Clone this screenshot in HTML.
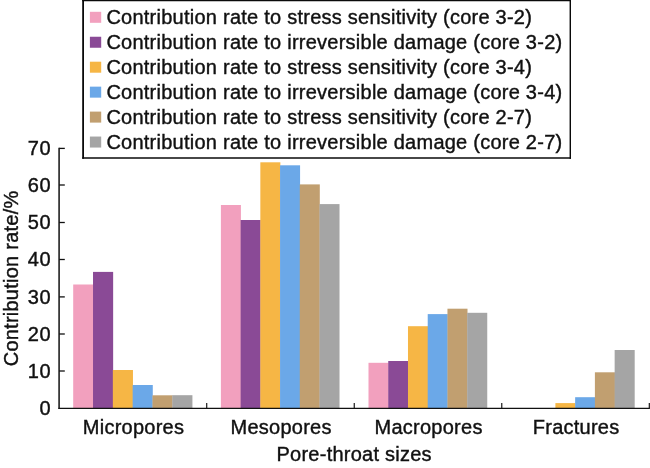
<!DOCTYPE html>
<html lang="en"><head><meta charset="utf-8"><title>Contribution rate chart</title>
<style>html,body{margin:0;padding:0;background:#fff}body{width:650px;height:468px;overflow:hidden}svg{display:block}text{font-family:"Liberation Sans",Arial,sans-serif;font-size:20px;letter-spacing:0.245px;fill:#111;stroke:#111;stroke-width:0.4px}</style></head><body>
<svg width="650" height="468" viewBox="0 0 650 468">
<rect width="650" height="468" fill="#fff"/>
<rect x="73.20" y="284.50" width="20.12" height="123.50" fill="#F2A0BE"/>
<rect x="93.02" y="271.90" width="20.12" height="136.10" fill="#8A4A96"/>
<rect x="112.84" y="370.00" width="20.12" height="38.00" fill="#F6B645"/>
<rect x="132.66" y="385.00" width="20.12" height="23.00" fill="#6BA8E8"/>
<rect x="152.48" y="395.30" width="20.12" height="12.70" fill="#C19F70"/>
<rect x="172.30" y="395.20" width="20.12" height="12.80" fill="#A5A5A5"/>
<rect x="220.90" y="205.00" width="20.02" height="203.00" fill="#F2A0BE"/>
<rect x="240.62" y="220.00" width="20.02" height="188.00" fill="#8A4A96"/>
<rect x="260.34" y="162.30" width="20.02" height="245.70" fill="#F6B645"/>
<rect x="280.06" y="165.30" width="20.02" height="242.70" fill="#6BA8E8"/>
<rect x="299.78" y="184.40" width="20.02" height="223.60" fill="#C19F70"/>
<rect x="319.50" y="204.10" width="20.02" height="203.90" fill="#A5A5A5"/>
<rect x="368.50" y="362.80" width="20.04" height="45.20" fill="#F2A0BE"/>
<rect x="388.24" y="361.00" width="20.04" height="47.00" fill="#8A4A96"/>
<rect x="407.98" y="326.20" width="20.04" height="81.80" fill="#F6B645"/>
<rect x="427.72" y="314.10" width="20.04" height="93.90" fill="#6BA8E8"/>
<rect x="447.46" y="308.70" width="20.04" height="99.30" fill="#C19F70"/>
<rect x="467.20" y="312.80" width="20.04" height="95.20" fill="#A5A5A5"/>
<rect x="555.40" y="403.10" width="20.05" height="4.90" fill="#F6B645"/>
<rect x="575.15" y="397.20" width="20.05" height="10.80" fill="#6BA8E8"/>
<rect x="594.90" y="372.30" width="20.05" height="35.70" fill="#C19F70"/>
<rect x="614.65" y="350.00" width="20.05" height="58.00" fill="#A5A5A5"/>
<g stroke="#222" stroke-width="1.4" fill="none">
<path d="M59.1 147.70000000000002V408.90000000000003" stroke-width="1.75" stroke="#333"/>
<path d="M58.45 408.3H649.9" stroke-width="1.25" stroke="#111"/>
<path d="M59.2 371.00h5.6" stroke-width="1.3" stroke="#111"/>
<path d="M59.2 334.00h5.6" stroke-width="1.3" stroke="#111"/>
<path d="M59.2 296.90h5.6" stroke-width="1.3" stroke="#111"/>
<path d="M59.2 259.50h5.6" stroke-width="1.3" stroke="#111"/>
<path d="M59.2 222.50h5.6" stroke-width="1.3" stroke="#111"/>
<path d="M59.2 185.00h5.6" stroke-width="1.3" stroke="#111"/>
<path d="M59.2 148.40h5.6" stroke-width="1.3" stroke="#111"/>
<path d="M206.72 408.3v-5.3" stroke-width="1.15" stroke="#111"/>
<path d="M354.25 408.3v-5.3" stroke-width="1.15" stroke="#111"/>
<path d="M501.77 408.3v-5.3" stroke-width="1.15" stroke="#111"/>
<path d="M649.30 408.3v-5.3" stroke-width="1.15" stroke="#111"/>
</g>
<text x="51.1" y="415.05" text-anchor="end" style="letter-spacing:0.5px">0</text>
<text x="51.1" y="377.75" text-anchor="end" style="letter-spacing:0.5px">10</text>
<text x="51.1" y="340.75" text-anchor="end" style="letter-spacing:0.5px">20</text>
<text x="51.1" y="303.65" text-anchor="end" style="letter-spacing:0.5px">30</text>
<text x="51.1" y="266.25" text-anchor="end" style="letter-spacing:0.5px">40</text>
<text x="51.1" y="229.25" text-anchor="end" style="letter-spacing:0.5px">50</text>
<text x="51.1" y="191.75" text-anchor="end" style="letter-spacing:0.5px">60</text>
<text x="51.1" y="155.15" text-anchor="end" style="letter-spacing:0.5px">70</text>
<text x="133.56" y="433.8" text-anchor="middle">Micropores</text>
<text x="281.09" y="433.8" text-anchor="middle">Mesopores</text>
<text x="428.61" y="433.8" text-anchor="middle">Macropores</text>
<text x="576.14" y="433.8" text-anchor="middle">Fractures</text>
<text x="354.2" y="460.8" text-anchor="middle">Pore-throat sizes</text>
<text transform="translate(18.2 278.4) rotate(-90) scale(1 1.05)" text-anchor="middle">Contribution rate/%</text>
<rect x="83.1" y="0.5" width="487.2" height="157.6" fill="#fff"/>
<g stroke="#0a0a0a" fill="none"><path d="M83.1 0V158.85" stroke-width="1.8"/><path d="M82.2 158.1H571" stroke-width="1.5"/><path d="M570.3 0V158.85" stroke-width="1.45"/><path d="M82.2 0.55H571" stroke-width="1.25"/></g>
<rect x="89.9" y="11.80" width="11.3" height="11" fill="#F2A0BE"/>
<text x="106.4" y="23.80">Contribution rate to stress sensitivity (core 3-2)</text>
<rect x="89.9" y="36.75" width="11.3" height="11" fill="#8A4A96"/>
<text x="106.4" y="48.75">Contribution rate to irreversible damage (core 3-2)</text>
<rect x="89.9" y="61.70" width="11.3" height="11" fill="#F6B645"/>
<text x="106.4" y="73.70">Contribution rate to stress sensitivity (core 3-4)</text>
<rect x="89.9" y="86.65" width="11.3" height="11" fill="#6BA8E8"/>
<text x="106.4" y="98.65">Contribution rate to irreversible damage (core 3-4)</text>
<rect x="89.9" y="111.60" width="11.3" height="11" fill="#C19F70"/>
<text x="106.4" y="123.60">Contribution rate to stress sensitivity (core 2-7)</text>
<rect x="89.9" y="136.55" width="11.3" height="11" fill="#A5A5A5"/>
<text x="106.4" y="148.55">Contribution rate to irreversible damage (core 2-7)</text>
</svg></body></html>
